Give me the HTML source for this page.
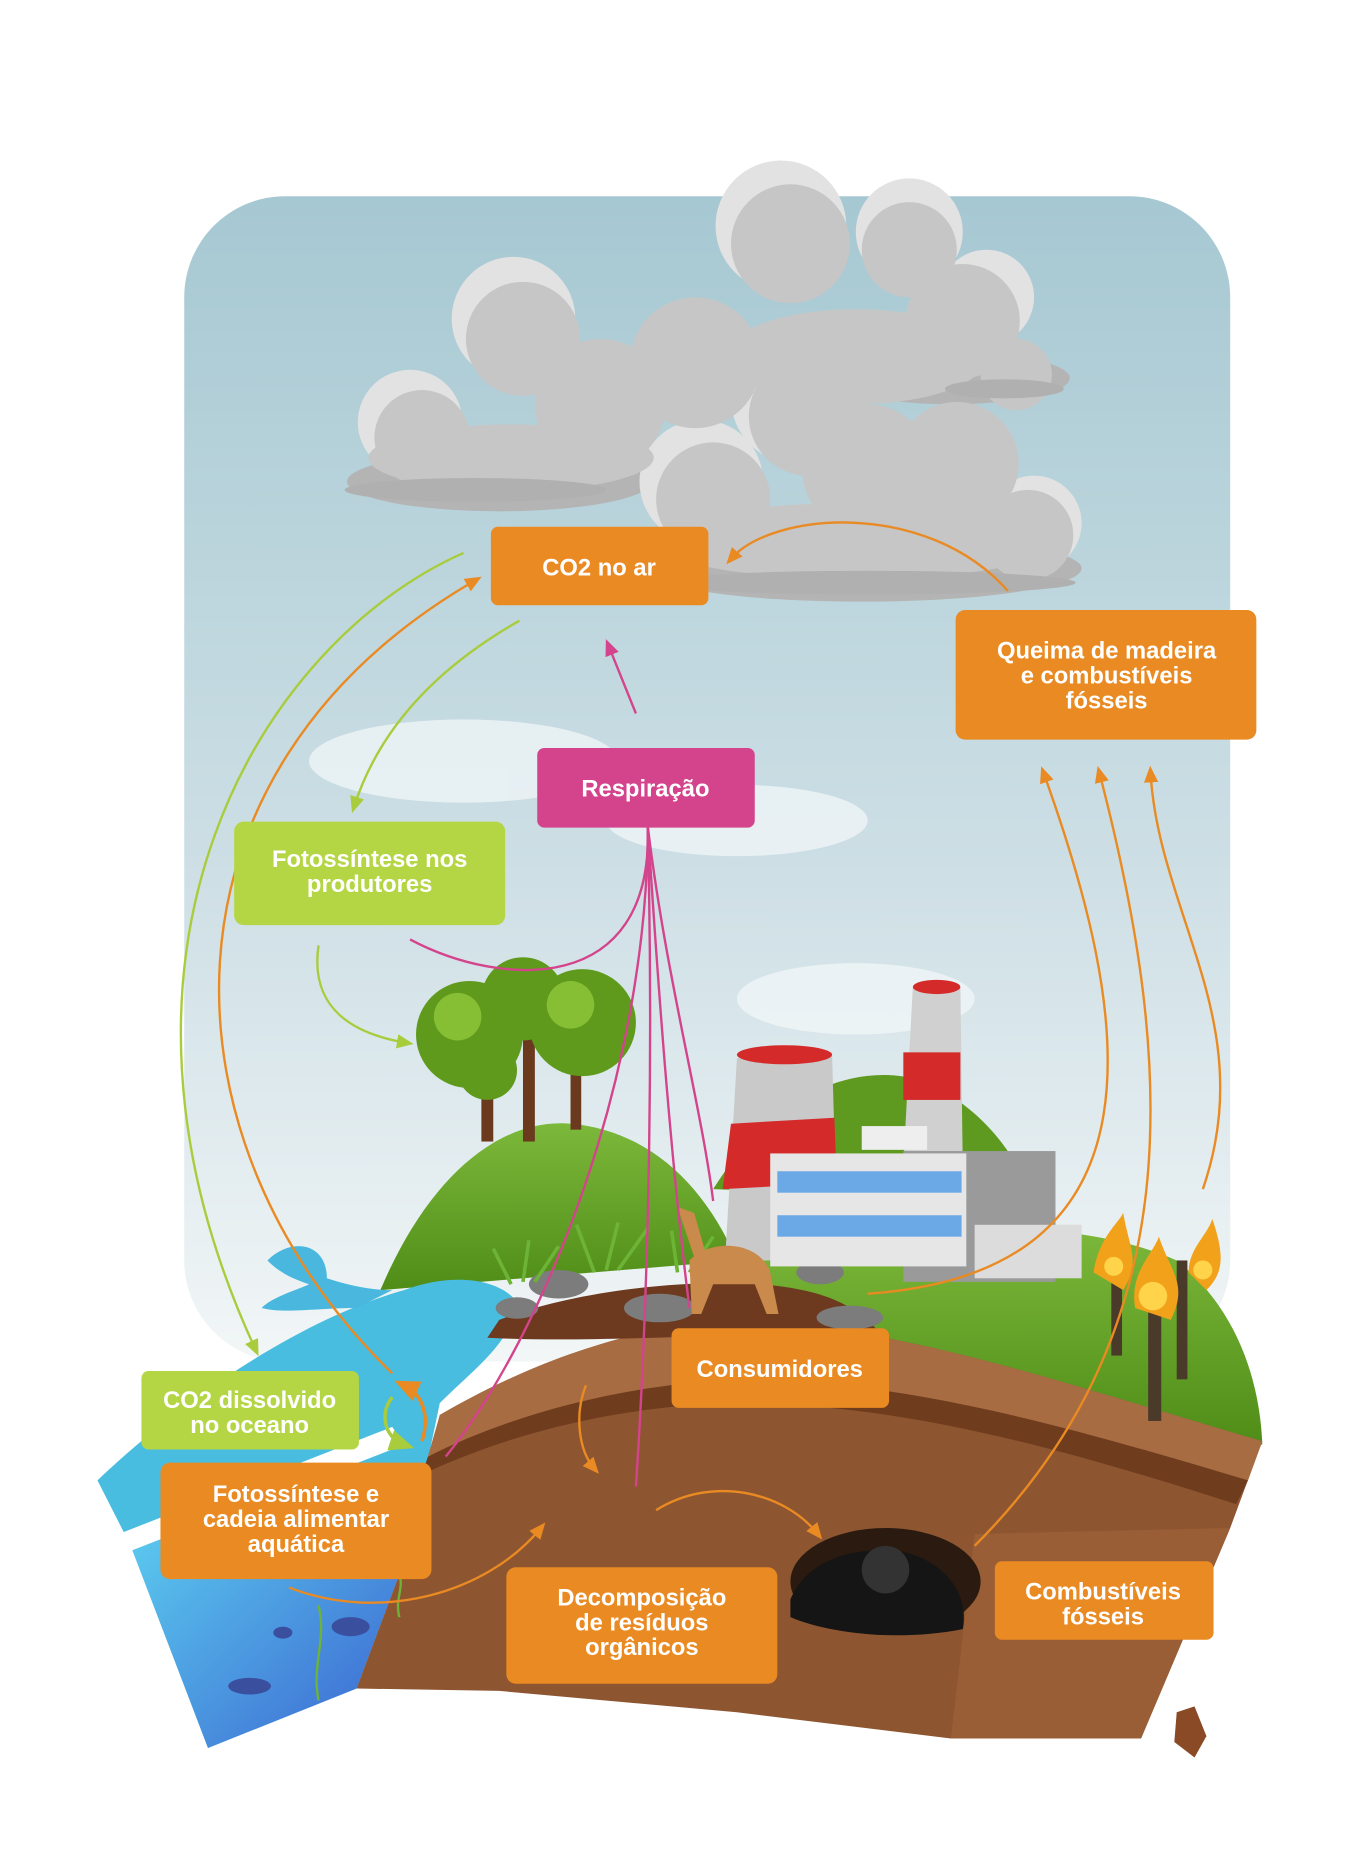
<!DOCTYPE html>
<html><head><meta charset="utf-8"><style>
html,body{margin:0;padding:0;background:#fff}
svg{display:block}
text{font-family:"Liberation Sans",sans-serif;font-weight:bold;fill:#fff;text-anchor:middle}
</style></head><body>
<svg width="1355" height="1855" viewBox="0 0 1140 1560" preserveAspectRatio="none" xmlns="http://www.w3.org/2000/svg">
<defs>
<linearGradient id="sky" x1="0" y1="0" x2="0" y2="1"><stop offset="0" stop-color="#a6c8d2"/><stop offset="0.6" stop-color="#cfe0e6"/><stop offset="1" stop-color="#f2f6f7"/></linearGradient>
<linearGradient id="sea" x1="0" y1="0" x2="1" y2="1"><stop offset="0" stop-color="#5fd6f2"/><stop offset="1" stop-color="#3a62d0"/></linearGradient>
<linearGradient id="hill" x1="0" y1="0" x2="0" y2="1"><stop offset="0" stop-color="#7cb83a"/><stop offset="1" stop-color="#4f8d18"/></linearGradient>
<marker id="ao" markerWidth="8" markerHeight="8" refX="4" refY="4" orient="auto"><path d="M0,1 L7,4 L0,7 z" fill="#e98a22"/></marker>
<marker id="ag" markerWidth="8" markerHeight="8" refX="4" refY="4" orient="auto"><path d="M0,1 L7,4 L0,7 z" fill="#a9cc3c"/></marker>
<marker id="ap" markerWidth="8" markerHeight="8" refX="4" refY="4" orient="auto"><path d="M0,1 L7,4 L0,7 z" fill="#d3448c"/></marker>
</defs>
<rect x="155" y="165" width="880" height="980" rx="85" fill="url(#sky)"/>
<g fill="#f4f8fa" opacity="0.7">
<ellipse cx="390" cy="640" rx="130" ry="35"/><ellipse cx="620" cy="690" rx="110" ry="30"/><ellipse cx="720" cy="840" rx="100" ry="30"/>
</g>
<!-- grey clouds -->
<g fill="#b4b4b4">
<ellipse cx="420" cy="405" rx="128" ry="25"/><ellipse cx="725" cy="478" rx="185" ry="28"/><ellipse cx="800" cy="318" rx="100" ry="22"/>
</g>
<g fill="#e2e2e2">
<circle cx="345" cy="355" r="44"/><circle cx="432" cy="268" r="52"/><circle cx="657" cy="190" r="55"/><circle cx="765" cy="195" r="45"/>
<circle cx="670" cy="335" r="55"/><circle cx="590" cy="405" r="52"/><circle cx="830" cy="250" r="40"/><circle cx="870" cy="440" r="40"/>
</g>
<g fill="#c6c6c6">
<circle cx="355" cy="368" r="40"/><circle cx="440" cy="285" r="48"/><circle cx="505" cy="340" r="55"/><circle cx="585" cy="305" r="55"/>
<circle cx="665" cy="205" r="50"/><circle cx="765" cy="210" r="40"/><circle cx="810" cy="270" r="48"/><circle cx="855" cy="315" r="30"/>
<circle cx="680" cy="350" r="50"/><circle cx="600" cy="420" r="48"/><circle cx="730" cy="395" r="55"/><circle cx="805" cy="390" r="52"/><circle cx="865" cy="450" r="38"/>
<ellipse cx="430" cy="385" rx="120" ry="28"/><ellipse cx="720" cy="455" rx="170" ry="32"/><ellipse cx="720" cy="300" rx="110" ry="40"/>
</g>
<g fill="#b0b0b0"><ellipse cx="400" cy="412" rx="110" ry="10"/><ellipse cx="730" cy="490" rx="175" ry="10"/><ellipse cx="845" cy="327" rx="50" ry="8"/></g>
<!-- hills -->
<path d="M320,1085 C360,990 420,940 480,945 C540,950 590,990 620,1060 Z" fill="url(#hill)"/>
<path d="M600,1000 C650,920 720,890 780,910 C820,930 850,960 870,1010 Z" fill="#5e9a1f"/>
<path d="M620,1045 C760,1030 900,1020 990,1060 C1040,1100 1060,1160 1062,1215 L700,1150 Z" fill="url(#hill)"/>
<!-- ocean -->
<path d="M82,1245 C150,1180 250,1110 340,1085 C380,1070 420,1075 435,1095 C430,1130 400,1150 370,1180 L345,1300 L300,1420 L175,1470 L110,1300 Z" fill="#48bde0"/>
<path d="M110,1300 L300,1240 L345,1300 L300,1420 L175,1470 Z" fill="url(#sea)"/>
<path d="M100,1290 L330,1200 L340,1215 L108,1305 Z" fill="#fff"/>
<path d="M225,1060 C245,1040 275,1045 275,1075 C290,1080 310,1085 330,1085 L300,1100 C265,1100 240,1105 220,1100 C230,1090 250,1085 260,1080 C245,1075 235,1070 225,1060Z" fill="#4ab8de"/>
<!-- earth slab -->
<path d="M370,1190 C430,1155 520,1115 620,1110 C760,1115 900,1165 1062,1212 L1035,1285 L960,1462 L800,1462 L620,1440 L420,1422 L300,1420 L345,1300 Z" fill="#8e5531"/>
<path d="M370,1190 C430,1155 520,1115 620,1110 C760,1115 900,1165 1062,1212 L1050,1245 C900,1200 760,1160 620,1160 C520,1165 430,1190 360,1225 Z" fill="#a86c42"/>
<path d="M360,1225 C430,1190 520,1165 620,1160 C760,1160 900,1200 1050,1245 L1040,1265 C900,1220 760,1180 620,1180 C520,1182 430,1205 355,1240 Z" fill="#6f3d1e"/>
<path d="M820,1290 L1035,1285 L960,1462 L800,1462 Z" fill="#9a5e36"/>
<path d="M420,1110 C470,1090 560,1075 640,1080 C700,1085 720,1100 740,1120 C640,1120 500,1130 410,1125Z" fill="#6d3a20"/>
<ellipse cx="745" cy="1330" rx="80" ry="45" fill="#2b1a10"/>
<path d="M665,1345 C680,1310 720,1300 760,1305 C800,1315 815,1345 810,1370 C760,1380 700,1375 665,1360Z" fill="#151515"/>
<circle cx="745" cy="1320" r="20" fill="#333"/>
<g fill="#7c7c7c"><ellipse cx="470" cy="1080" rx="25" ry="12"/><ellipse cx="555" cy="1100" rx="30" ry="12"/><ellipse cx="435" cy="1100" rx="18" ry="9"/><ellipse cx="690" cy="1070" rx="20" ry="10"/><ellipse cx="715" cy="1108" rx="28" ry="10"/></g>
<path d="M990,1440 L1005,1435 L1015,1460 L1005,1478 L988,1465Z" fill="#8a4a25"/>
<g stroke="#6db436" stroke-width="3" fill="none"><path d="M430,1080 l-15,-30 M440,1078 l5,-35 M450,1078 l20,-30 M500,1070 l-15,-40 M510,1068 l10,-40 M520,1068 l25,-35 M570,1070 l-5,-35 M580,1070 l20,-30"/></g>
<g fill="#6b3a1e"><rect x="405" y="880" width="10" height="80"/><rect x="440" y="860" width="10" height="100"/><rect x="480" y="880" width="9" height="70"/></g>
<g fill="#5f9a1c"><circle cx="395" cy="870" r="45"/><circle cx="440" cy="840" r="35"/><circle cx="490" cy="860" r="45"/><circle cx="410" cy="900" r="25"/></g>
<g fill="#86bf34"><circle cx="385" cy="855" r="20"/><circle cx="480" cy="845" r="20"/></g>
<path d="M610,1060 L620,890 L700,885 L705,1060Z" fill="#c9c9c9"/>
<path d="M608,1000 L615,945 L702,940 L704,995Z" fill="#d42a2a"/>
<ellipse cx="660" cy="887" rx="40" ry="8" fill="#d42a2a"/>
<path d="M760,980 L768,830 L808,830 L810,980Z" fill="#d0d0d0"/>
<rect x="760" y="885" width="48" height="40" fill="#d42a2a"/><ellipse cx="788" cy="830" rx="20" ry="6" fill="#d42a2a"/>
<rect x="760" y="968" width="128" height="110" fill="#9a9a9a"/>
<rect x="648" y="970" width="165" height="95" fill="#e6e6e6"/>
<g fill="#6aa8e6"><rect x="654" y="985" width="155" height="18"/><rect x="654" y="1022" width="155" height="18"/></g>
<rect x="820" y="1030" width="90" height="45" fill="#dcdcdc"/>
<rect x="725" y="947" width="55" height="20" fill="#eee"/>
<path d="M580,1060 C600,1040 640,1045 648,1070 L655,1105 L645,1105 L635,1080 L600,1080 L590,1105 L582,1105Z" fill="#c98a4c"/>
<path d="M570,1015 L585,1060 L595,1058 L584,1020Z" fill="#c98a4c"/>
<g fill="#4a3a2a"><rect x="935" y="1060" width="9" height="80"/><rect x="966" y="1080" width="11" height="115"/><rect x="990" y="1060" width="9" height="100"/></g>
<g fill="#f2a21a"><path d="M920,1070 C925,1040 940,1030 945,1020 C950,1050 960,1060 945,1085Z"/><path d="M955,1100 C950,1070 970,1055 975,1040 C985,1070 1000,1080 985,1110Z"/><path d="M1000,1070 C1000,1050 1015,1040 1020,1025 C1030,1055 1030,1070 1015,1085Z"/></g>
<g fill="#ffd34a"><circle cx="970" cy="1090" r="12"/><circle cx="937" cy="1065" r="8"/><circle cx="1012" cy="1068" r="8"/></g>
<g fill="#3b4f9f"><ellipse cx="210" cy="1418" rx="18" ry="7"/><ellipse cx="295" cy="1368" rx="16" ry="8"/><ellipse cx="238" cy="1373" rx="8" ry="5"/></g>
<g stroke="#6db436" stroke-width="2" fill="none"><path d="M268,1430 C262,1400 275,1380 268,1350"/><path d="M336,1360 C332,1345 340,1335 336,1325"/></g>
<g fill="none" stroke-width="2">
<path d="M390,465 C220,540 60,800 215,1135" stroke="#a9cc3c" marker-end="url(#ag)"/>
<path d="M437,522 C370,560 320,610 298,678" stroke="#a9cc3c" marker-end="url(#ag)"/>
<path d="M268,795 C260,850 300,870 342,877" stroke="#a9cc3c" marker-end="url(#ag)"/>
<path d="M330,1175 C318,1190 325,1210 340,1215" stroke="#a9cc3c" stroke-width="3" marker-end="url(#ag)"/>
<path d="M330,1155 C130,960 120,650 400,488" stroke="#e98a22" marker-end="url(#ao)"/>
<path d="M848,497 C780,420 650,430 615,470" stroke="#e98a22" marker-end="url(#ao)"/>
<path d="M730,1088 C990,1070 950,850 878,650" stroke="#e98a22" marker-end="url(#ao)"/>
<path d="M820,1300 C1000,1120 990,900 925,650" stroke="#e98a22" marker-end="url(#ao)"/>
<path d="M1012,1000 C1060,860 975,770 968,650" stroke="#e98a22" marker-end="url(#ao)"/>
<path d="M493,1165 C483,1190 487,1220 500,1235" stroke="#e98a22" marker-end="url(#ao)"/>
<path d="M552,1270 C600,1240 660,1255 688,1290" stroke="#e98a22" marker-end="url(#ao)"/>
<path d="M243,1335 C320,1365 410,1340 455,1285" stroke="#e98a22" marker-end="url(#ao)"/>
<path d="M355,1212 C362,1190 355,1172 340,1165" stroke="#e98a22" stroke-width="3" marker-end="url(#ao)"/>
<path d="M545,695 C550,840 420,830 345,790" stroke="#d3448c"/>
<path d="M535,600 L512,543" stroke="#d3448c" marker-end="url(#ap)"/>
<path d="M545,695 C545,900 460,1120 375,1225" stroke="#d3448c"/>
<path d="M545,695 C550,900 545,1100 535,1250" stroke="#d3448c"/>
<path d="M545,695 C560,820 590,930 600,1010" stroke="#d3448c"/>
<path d="M545,695 C555,850 565,980 580,1100" stroke="#d3448c"/>
</g>
<rect x="413" y="443" width="183" height="66" rx="6" fill="#e98a22"/><text x="504" y="484" font-size="20">CO2 no ar</text>
<rect x="804" y="513" width="253" height="109" rx="8" fill="#e98a22"/>
<text x="931" y="554" font-size="20">Queima de madeira</text><text x="931" y="575" font-size="20">e combustíveis</text><text x="931" y="596" font-size="20">fósseis</text>
<rect x="452" y="629" width="183" height="67" rx="6" fill="#d3448c"/><text x="543" y="670" font-size="20">Respiração</text>
<rect x="197" y="691" width="228" height="87" rx="8" fill="#b5d644"/><text x="311" y="729" font-size="20">Fotossíntese nos</text><text x="311" y="750" font-size="20">produtores</text>
<rect x="565" y="1117" width="183" height="67" rx="6" fill="#e98a22"/><text x="656" y="1158" font-size="20">Consumidores</text>
<rect x="119" y="1153" width="183" height="66" rx="6" fill="#b5d644"/><text x="210" y="1184" font-size="20">CO2 dissolvido</text><text x="210" y="1205" font-size="20">no oceano</text>
<rect x="135" y="1230" width="228" height="98" rx="8" fill="#e98a22"/><text x="249" y="1263" font-size="20">Fotossíntese e</text><text x="249" y="1284" font-size="20">cadeia alimentar</text><text x="249" y="1305" font-size="20">aquática</text>
<rect x="426" y="1318" width="228" height="98" rx="8" fill="#e98a22"/><text x="540" y="1350" font-size="20">Decomposição</text><text x="540" y="1371" font-size="20">de resíduos</text><text x="540" y="1392" font-size="20">orgânicos</text>
<rect x="837" y="1313" width="184" height="66" rx="6" fill="#e98a22"/><text x="928" y="1345" font-size="20">Combustíveis</text><text x="928" y="1366" font-size="20">fósseis</text>
</svg>
</body></html>
